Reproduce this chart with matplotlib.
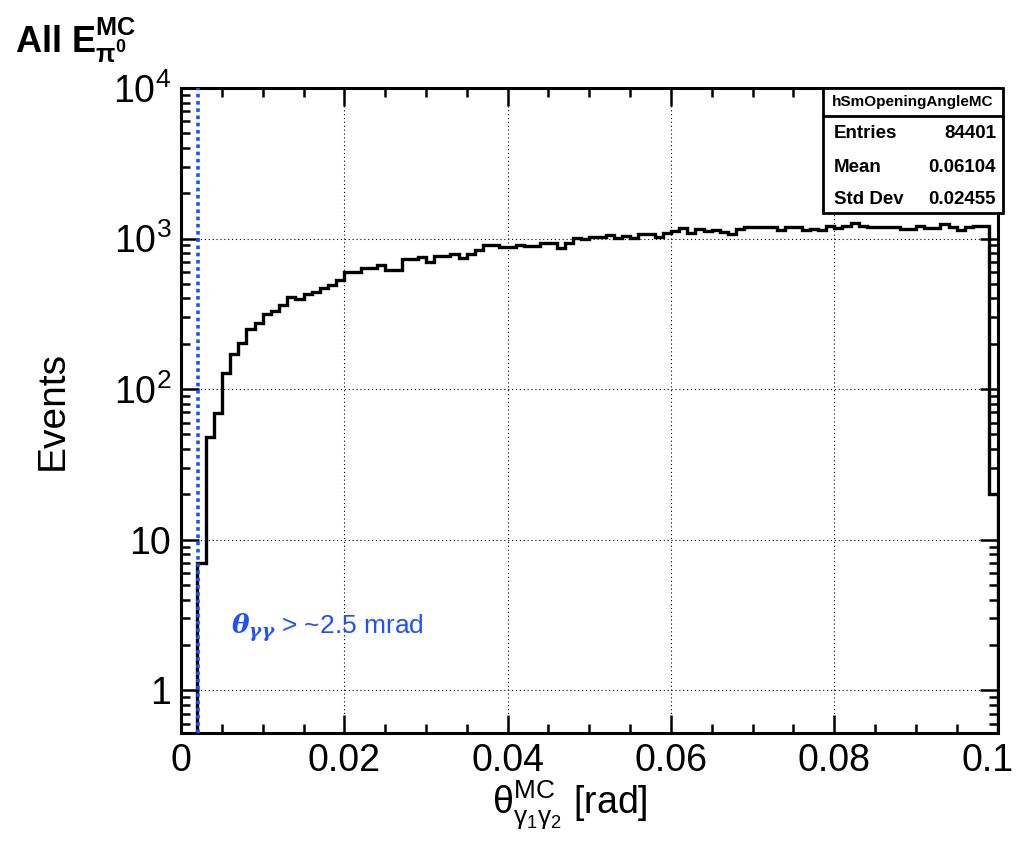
import numpy as np
import matplotlib
matplotlib.use('Agg')
import matplotlib.pyplot as plt
from matplotlib.ticker import MultipleLocator, LogLocator, FuncFormatter, NullFormatter
from matplotlib.patches import Rectangle
from matplotlib.lines import Line2D
from matplotlib.transforms import ScaledTranslation

plt.rcParams['font.family'] = ['Liberation Sans', 'DejaVu Sans']
plt.rcParams['mathtext.fontset'] = 'custom'
plt.rcParams['mathtext.rm'] = 'Liberation Sans'
plt.rcParams['mathtext.it'] = 'Liberation Sans:italic'
plt.rcParams['mathtext.bf'] = 'Liberation Sans:bold'
plt.rcParams['mathtext.bfit'] = 'DejaVu Serif:italic:bold'

# histogram: 100 bins of 1 mrad between 0 and 0.1 rad
bin_edges = np.linspace(0.0, 0.1, 101)
counts = [0, 0, 7, 48, 69, 127, 172, 202, 249, 275,
          313, 332, 362, 412, 396, 428, 439, 468, 490, 531,
          597, 597, 634, 634, 670, 621, 621, 731, 731, 750,
          702, 769, 769, 788, 747, 788, 838, 904, 904, 885,
          873, 904, 886, 886, 931, 931, 859, 931, 1016, 990,
          1026, 1026, 1052, 1016, 1041, 1016, 1068, 1068, 1031, 1095,
          1124, 1182, 1084, 1164, 1124, 1141, 1106, 1068, 1164, 1200,
          1200, 1200, 1200, 1141, 1188, 1188, 1141, 1164, 1141, 1213,
          1183, 1214, 1277, 1214, 1195, 1195, 1195, 1195, 1165, 1165,
          1214, 1183, 1183, 1245, 1201, 1142, 1190, 1214, 1214, 20]

cut_angle = 0.0021
cut_label = r'$\mathbfit{θ_{γγ}}$ > ~2.5 mrad'

hist_name = 'hSmOpeningAngleMC'
stat_names = ['Entries', 'Mean', 'Std Dev']
stat_values = ['84401', '0.06104', '0.02455']

BLUE = '#1f4fff'

fig = plt.figure(figsize=(10.2, 8.51), dpi=100)
ax = fig.add_axes([0.1775, 0.1387, 0.8005, 0.7579])

vals = np.asarray(counts, dtype=float)
draw_vals = np.where(vals > 0, vals, 1e-3)
ax.stairs(draw_vals, bin_edges, baseline=1e-3, color='black', lw=2.4, zorder=3)

ax.axvline(cut_angle, color=BLUE, ls=(0, (1, 1)), lw=2.6, zorder=4)
ax.text(0.0061, 2.6, cut_label, color=BLUE, fontsize=19, va='center', ha='left')

ax.set_yscale('log')
ax.set_xlim(0, 0.1)
ax.set_ylim(0.52, 1e4)

ax.xaxis.set_major_locator(MultipleLocator(0.02))
ax.xaxis.set_minor_locator(MultipleLocator(0.005))
ax.xaxis.set_major_formatter(FuncFormatter(lambda v, p: '%g' % round(v, 4)))
ax.yaxis.set_major_locator(LogLocator(base=10, numticks=10))
ax.yaxis.set_minor_locator(LogLocator(base=10, subs=np.arange(2, 10), numticks=20))
ax.yaxis.set_minor_formatter(NullFormatter())


def ylab(v, pos):
    e = int(round(np.log10(v)))
    if e == 0:
        return '1'
    if e == 1:
        return '10'
    return r'$10^{%d}$' % e


ax.yaxis.set_major_formatter(FuncFormatter(ylab))

ax.tick_params(which='both', direction='in', top=True, right=True, width=1.8, labelsize=27)
ax.tick_params(which='major', length=13, pad=7)
ax.tick_params(which='minor', length=6.5)
for s in ax.spines.values():
    s.set_linewidth(2.2)

ax.grid(True, which='major', color='black', ls=(0, (1, 2.5)), lw=0.8)

ax.set_ylabel('Events', fontsize=28)
ax.yaxis.set_label_coords(-0.135, 0.5)
ax.set_xlabel(r'$\mathrm{θ}^{\mathrm{MC}}_{\mathrm{γ}_{1}\mathrm{γ}_{2}}$ [rad]', fontsize=27)
ax.xaxis.set_label_coords(0.476, -0.07)

fig.text(0.015, 1 - 53 / 851, r'All E$^{\mathbf{MC}}_{\mathbf{π^{0}}}$',
         fontsize=26, fontweight='bold', ha='left', va='baseline')

# stats box
bx0, bx1 = 823 / 1020, 1003 / 1020
by1, by0 = 1 - 88 / 851, 1 - 213 / 851
fig.add_artist(Rectangle((bx0, by0), bx1 - bx0, by1 - by0, transform=fig.transFigure,
                         facecolor='white', edgecolor='black', lw=2, zorder=10))
sep_y = 1 - 116 / 851
fig.add_artist(Line2D([bx0, bx1], [sep_y, sep_y], transform=fig.transFigure,
                      color='black', lw=2, zorder=11))
fig.text((bx0 + bx1) / 2, 1 - 102 / 851, hist_name, fontsize=11, fontweight='bold',
         ha='center', va='center', zorder=12)
for i, (n, v) in enumerate(zip(stat_names, stat_values)):
    yy = 1 - (134 + 33 * i) / 851
    fig.text(834 / 1020, yy, n, fontsize=13.5, fontweight='bold', ha='left', va='center', zorder=12)
    fig.text(996 / 1020, yy, v, fontsize=13.5, fontweight='bold', ha='right', va='center', zorder=12)

# nudge the "0.1" label a little to the left so it stays inside the canvas
fig.canvas.draw()
for tk in ax.xaxis.get_major_ticks():
    if tk.label1.get_text() == '0.1':
        tk.label1.set_transform(tk.label1.get_transform()
                                + ScaledTranslation(-0.1, 0, fig.dpi_scale_trans))

fig.savefig('out.png', dpi=100)
